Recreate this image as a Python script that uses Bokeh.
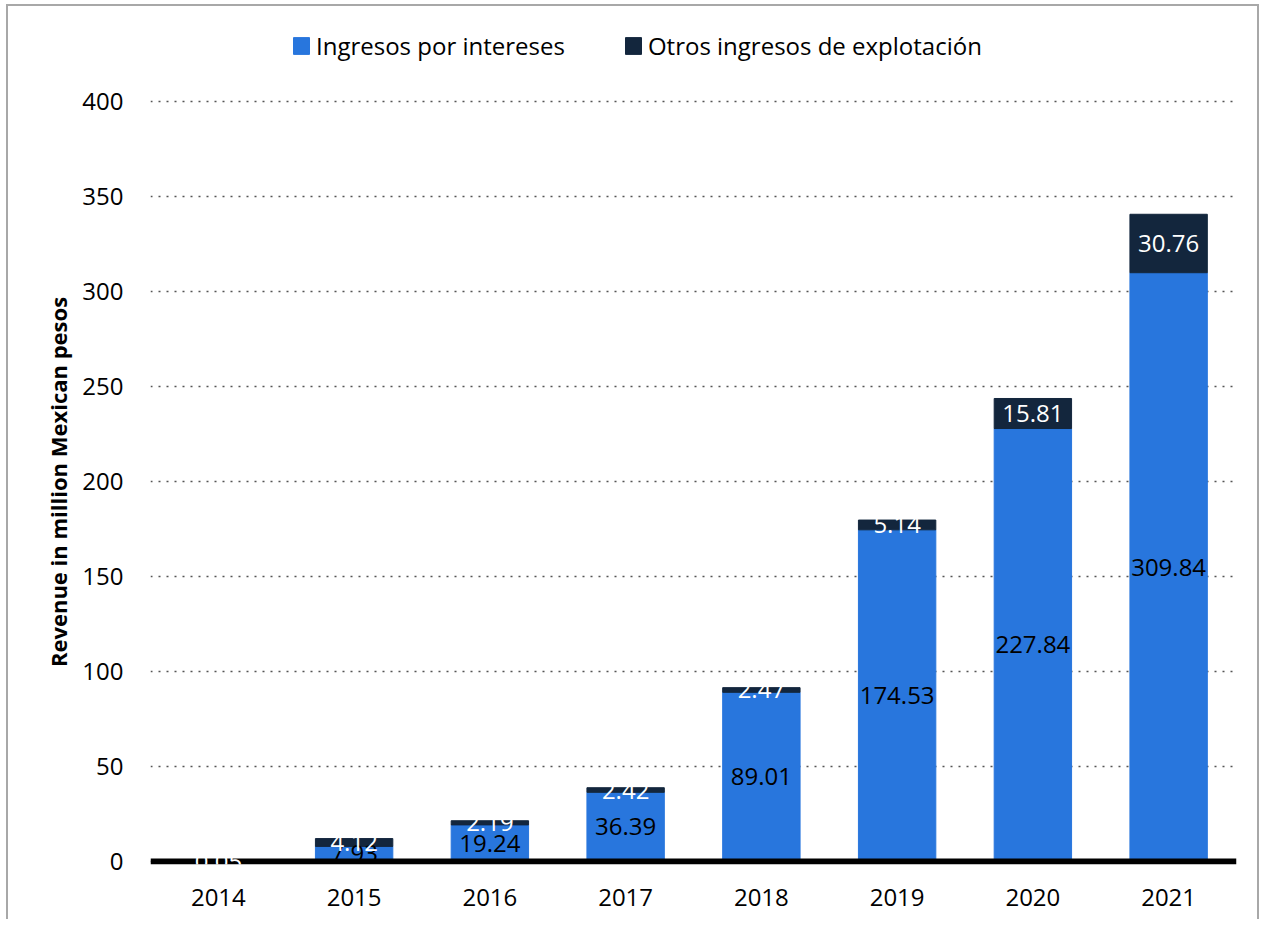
from bokeh.plotting import figure
from bokeh.layouts import column
from bokeh.models import ColumnDataSource, Range1d, FactorRange, Legend, LegendItem, FixedTicker
from bokeh.core.properties import value
from bokeh.embed import file_html
from bokeh.resources import INLINE

years = ["2014", "2015", "2016", "2017", "2018", "2019", "2020", "2021"]
interest = [0.0, 7.93, 19.24, 36.39, 89.01, 174.53, 227.84, 309.84]
other = [0.05, 4.12, 2.19, 2.42, 2.47, 5.14, 15.81, 30.76]
series_names = ["Ingresos por intereses", "Otros ingresos de explotación"]
colors = ["#2876DD", "#13263D"]
y_ticks = [0, 50, 100, 150, 200, 250, 300, 350, 400]
y_title = "Revenue in million Mexican pesos"

FONT = "Open Sans"
BORDER = "2px solid #a8a8a8"

src = ColumnDataSource(dict(year=years, interest=interest, other=other))

# ---- legend strip (top) ----
lg = figure(width=1253, height=80, x_range=Range1d(0, 1), y_range=Range1d(0, 1),
            x_axis_type=None, y_axis_type=None,
            output_backend="svg", toolbar_location=None,
            min_border=0)
lg.styles = {"margin-left": "6px", "margin-top": "4px",
             "border-left": BORDER, "border-top": BORDER, "border-right": BORDER}
lg.outline_line_color = None
lg.xgrid.grid_line_color = None
lg.ygrid.grid_line_color = None
# legend swatches (renderers kept outside the visible range)
dummies = [lg.rect(x=[-5], y=[-5], width=0.01, height=0.01, color=colors[i]) for i in range(2)]
legend = Legend(
    items=[LegendItem(label=series_names[i], renderers=[dummies[i]]) for i in range(2)],
    orientation="horizontal", location=(141, 24),
    glyph_width=20, glyph_height=21, label_standoff=5, spacing=58,
    padding=0, margin=0, border_line_alpha=0, background_fill_alpha=0,
    label_text_font=FONT, label_text_font_size="24px", label_text_color="black",
)
lg.add_layout(legend)

# ---- main chart ----
p = figure(
    x_range=FactorRange(*years),
    y_range=Range1d(-1.6, 401),
    width=1253, height=835,
    output_backend="svg", toolbar_location=None,
    min_border_left=142, min_border_right=25, min_border_top=15, min_border_bottom=55,
)
p.styles = {"margin-left": "6px", "border-left": BORDER, "border-right": BORDER}
p.outline_line_color = None
p.background_fill_color = "white"
p.border_fill_color = "white"

bars = p.vbar_stack(["interest", "other"], x="year", width=0.57, color=colors, source=src)

# baseline
p.hspan(y=[0], line_color="black", line_width=6)

# data labels
li_x, li_y, li_t = [], [], []
for yr, v in zip(years, interest):
    if v > 0:
        li_x.append(yr); li_y.append(v / 2); li_t.append(f"{v:.2f}")
lo_x, lo_y, lo_t = [], [], []
for yr, v, o in zip(years, interest, other):
    lo_x.append(yr); lo_y.append(v + o / 2); lo_t.append(f"{o:.2f}")

p.text(x=li_x, y=li_y, text=li_t, text_align="center", text_baseline="middle",
       text_font=value(FONT), text_font_size="24px", text_color="black")
p.text(x=lo_x, y=lo_y, text=lo_t, text_align="center", text_baseline="middle",
       text_font=value(FONT), text_font_size="24px", text_color="white")

# grid
p.xgrid.grid_line_color = None
p.ygrid.ticker = FixedTicker(ticks=y_ticks)
p.ygrid.grid_line_color = "#555555"
p.ygrid.grid_line_dash = "2 6"
p.ygrid.grid_line_width = 1.5

# axes
p.yaxis.ticker = FixedTicker(ticks=y_ticks)
for ax in (p.xaxis[0], p.yaxis[0]):
    ax.axis_line_color = None
    ax.major_tick_line_color = None
    ax.minor_tick_line_color = None
    ax.major_label_text_font = FONT
    ax.major_label_text_font_size = "24px"
    ax.major_label_text_color = "black"
p.xaxis.major_label_standoff = 18
p.yaxis.major_label_standoff = 21
p.yaxis.axis_label = y_title
p.yaxis.axis_label_text_font = FONT
p.yaxis.axis_label_text_font_size = "22px"
p.yaxis.axis_label_text_font_style = "bold"
p.yaxis.axis_label_text_color = "black"
p.yaxis.axis_label_standoff = 6

layout = column(lg, p, spacing=0)

open("out.html", "w").write(file_html(layout, INLINE))
